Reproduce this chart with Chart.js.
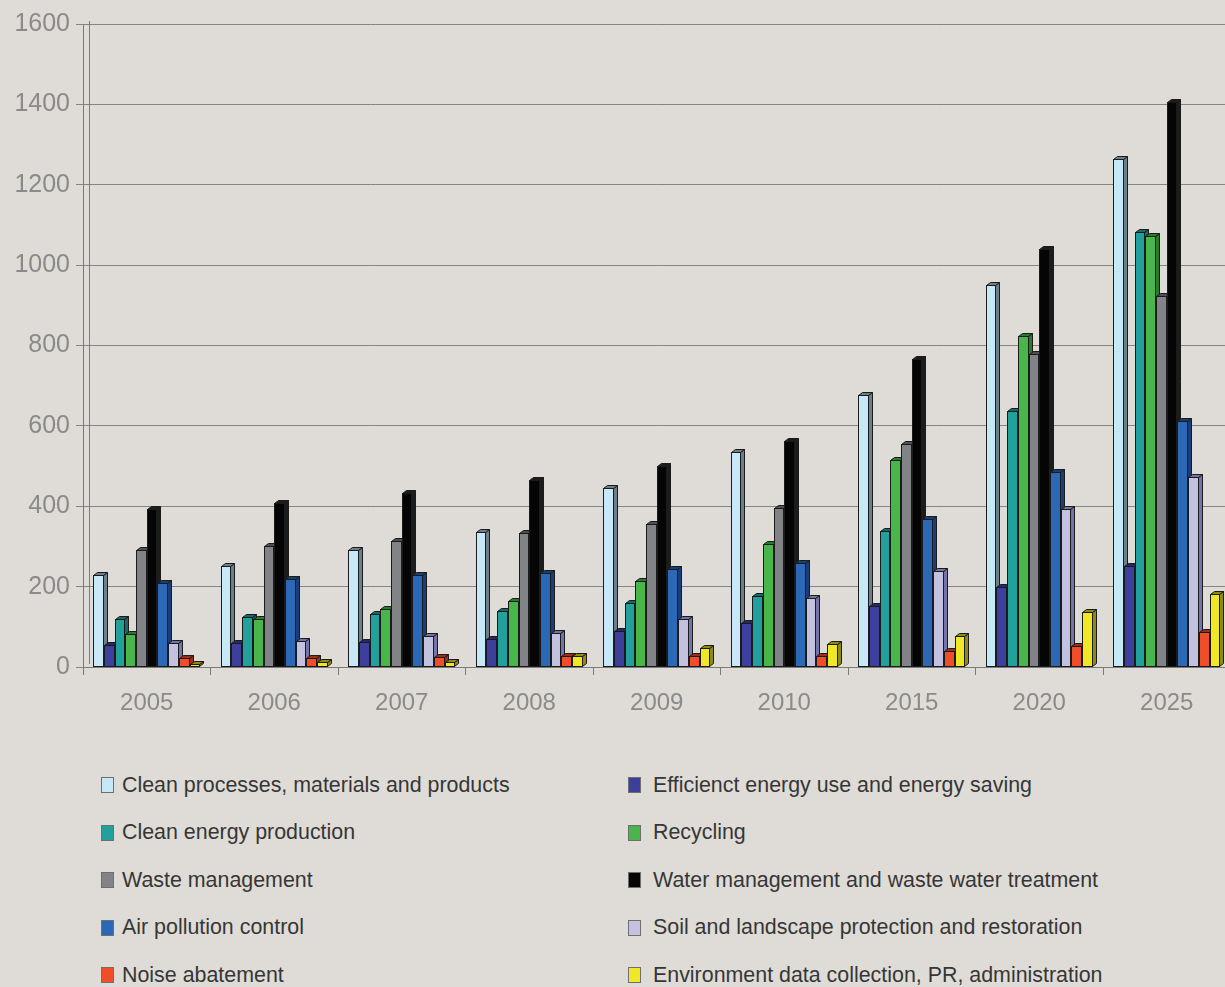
<!DOCTYPE html>
<html>
<head>
<meta charset="utf-8">
<script src="https://cdn.jsdelivr.net/npm/chart.js@4.4.1/dist/chart.umd.min.js"></script>
<style>
  html, body { margin: 0; padding: 0; background: #dfdcd7; overflow: hidden; width: 1225px; height: 987px; }
  #chart { position: absolute; left: 0; top: 0; }
  .item { position: absolute; display: flex; align-items: center; height: 24px;
          font: 21.4px "Liberation Sans", Arial, sans-serif; color: #363636; white-space: nowrap; }
  .item span.box { display: inline-block; width: 11px; height: 14px; border: 1px solid #6e6e6e; margin-right: 8px; }
  .item.right span.box { margin-right: 12px; }
</style>
</head>
<body>
<canvas id="chart" width="1240" height="740"></canvas>
<div id="legend"></div>
<script>
const years = ['2005', '2006', '2007', '2008', '2009', '2010', '2015', '2020', '2025'];

const seriesNames = [
    'Clean processes, materials and products',
    'Efficienct energy use and energy saving',
    'Clean energy production',
    'Recycling',
    'Waste management',
    'Water management and waste water treatment',
    'Air pollution control',
    'Soil and landscape protection and restoration',
    'Noise abatement',
    'Environment data collection, PR, administration'
];

const cleanProcesses = [228, 251, 290, 337, 445, 534, 677, 950, 1265];
const energySaving   = [55, 60, 63, 70, 90, 110, 152, 198, 252];
const cleanEnergy    = [120, 124, 132, 139, 159, 176, 339, 636, 1083];
const recycling      = [81, 119, 145, 164, 214, 306, 514, 824, 1073];
const wasteMgmt      = [292, 300, 313, 333, 357, 395, 556, 778, 922];
const waterMgmt      = [394, 408, 433, 466, 501, 563, 767, 1040, 1405];
const airPollution   = [210, 218, 229, 233, 243, 260, 368, 486, 612];
const soil           = [60, 65, 77, 84, 119, 172, 240, 394, 474];
const noise          = [23, 22, 26, 27, 27, 28, 40, 52, 86];
const envData        = [8, 13, 13, 27, 47, 58, 78, 138, 181];

const yTicks = [0, 200, 400, 600, 800, 1000, 1200, 1400, 1600];

const frontColors = ['#c6e8f8', '#3d3f9c', '#22a09c', '#48b64a', '#828387', '#050505', '#2b69b6', '#c2c2e0', '#f04e28', '#f0e824'];
const sideColors  = ['#6d7f88', '#262770', '#136a68', '#2c7a2e', '#4e4f52', '#1c1c1c', '#1a3f78', '#7474a6', '#9c2f16', '#8e8a14'];

const allSeries = [cleanProcesses, energySaving, cleanEnergy, recycling, wasteMgmt,
                   waterMgmt, airPollution, soil, noise, envData];

const DEPTH_X = 4;
const DEPTH_Y = 3;

// draws the bars with a small 3d side and top, left to right
const bars3d = {
    id: 'bars3d',
    beforeDatasetsDraw(chart) {
        const ctx = chart.ctx;
        const area = chart.chartArea;
        ctx.save();

        // back wall edge
        ctx.strokeStyle = '#7c7c7c';
        ctx.lineWidth = 1;
        ctx.beginPath();
        ctx.moveTo(area.left + 6.5, area.top - 3);
        ctx.lineTo(area.left + 6.5, area.bottom - 3);
        ctx.stroke();

        ctx.strokeStyle = '#1b1b1b';
        chart.data.datasets.forEach((ds, i) => {
            const meta = chart.getDatasetMeta(i);
            meta.data.forEach(bar => {
                const p = bar.getProps(['x', 'y', 'base', 'width'], true);
                const l = Math.round(p.x - p.width / 2) + 0.5;
                const r = Math.round(p.x + p.width / 2) - 0.5;
                const t = Math.round(p.y) + 0.5;
                const b = Math.round(p.base) - 0.5;

                ctx.fillStyle = sideColors[i];
                ctx.beginPath();
                ctx.moveTo(r, t);
                ctx.lineTo(r + DEPTH_X, t - DEPTH_Y);
                ctx.lineTo(r + DEPTH_X, b - DEPTH_Y);
                ctx.lineTo(r, b);
                ctx.closePath();
                ctx.fill();
                ctx.stroke();

                ctx.beginPath();
                ctx.moveTo(l, t);
                ctx.lineTo(l + DEPTH_X, t - DEPTH_Y);
                ctx.lineTo(r + DEPTH_X, t - DEPTH_Y);
                ctx.lineTo(r, t);
                ctx.closePath();
                ctx.fill();
                ctx.stroke();

                ctx.fillStyle = frontColors[i];
                ctx.fillRect(l, t, r - l, b - t);
                ctx.strokeRect(l, t, r - l, b - t);
            });
        });
        ctx.restore();
        return false;
    }
};

const axisFont = { family: '"Liberation Sans", Arial, sans-serif' };

new Chart(document.getElementById('chart'), {
    type: 'bar',
    data: {
        labels: years,
        datasets: allSeries.map((vals, i) => ({
            label: seriesNames[i],
            data: vals,
            backgroundColor: frontColors[i],
            borderWidth: 0
        }))
    },
    options: {
        responsive: false,
        animation: false,
        layout: { padding: { top: 24, right: 9.5, left: 0, bottom: 0 } },
        datasets: { bar: { categoryPercentage: 0.84, barPercentage: 1 } },
        plugins: {
            legend: { display: false },
            tooltip: { enabled: false }
        },
        scales: {
            x: {
                afterFit(scale) { scale.height = 73; },
                grid: { offset: true, drawOnChartArea: false, color: '#7a7a7a', tickLength: 8 },
                border: { color: '#7a7a7a' },
                ticks: {
                    color: '#8a8a8a',
                    padding: 14,
                    maxRotation: 0,
                    font: { ...axisFont, size: 24 }
                }
            },
            y: {
                min: 0,
                max: 1600,
                afterFit(scale) { scale.width = 83; },
                afterBuildTicks(scale) { scale.ticks = yTicks.map(v => ({ value: v })); },
                grid: { color: '#858585', tickLength: 7 },
                border: { color: '#7a7a7a' },
                ticks: {
                    color: '#8a8a8a',
                    padding: 6,
                    callback: v => String(v),
                    font: { ...axisFont, size: 25 }
                }
            }
        }
    },
    plugins: [bars3d]
});

// legend in two columns, same order as the bars
const legend = document.getElementById('legend');
seriesNames.forEach((name, i) => {
    const row = Math.floor(i / 2);
    const col = i % 2;
    const item = document.createElement('div');
    item.className = col === 0 ? 'item' : 'item right';
    item.style.left = (col === 0 ? 101 : 628) + 'px';
    item.style.top = (773 + row * 47.6) + 'px';
    const box = document.createElement('span');
    box.className = 'box';
    box.style.background = frontColors[i];
    item.appendChild(box);
    item.appendChild(document.createTextNode(name));
    legend.appendChild(item);
});
</script>
</body>
</html>
